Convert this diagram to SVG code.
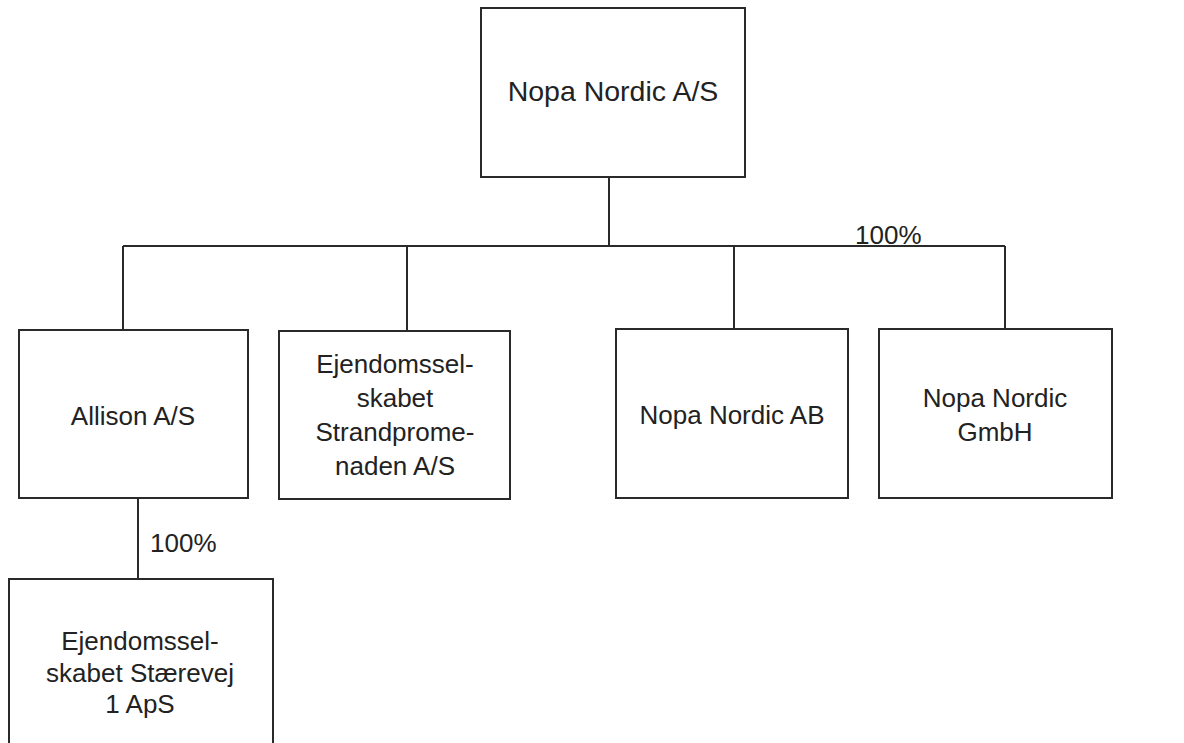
<svg xmlns="http://www.w3.org/2000/svg" width="1184" height="743" viewBox="0 0 1184 743">
<style>
.box{fill:#fff;stroke:#2a2a2a;stroke-width:2}
.ln{stroke:#2a2a2a;stroke-width:2;fill:none}
text{font-family:"Liberation Sans",Arial,sans-serif;font-size:26px;fill:#222;text-anchor:middle}
.top{font-size:28.5px}
.pct{font-size:26px;text-anchor:start}
</style>
<rect width="1184" height="743" fill="#fff"/>
<g id="connectors">
<line class="ln" x1="609" y1="177" x2="609" y2="246"/>
<line class="ln" x1="123" y1="246" x2="1005" y2="246"/>
<line class="ln" x1="123" y1="246" x2="123" y2="330"/>
<line class="ln" x1="407" y1="246" x2="407" y2="331"/>
<line class="ln" x1="734" y1="246" x2="734" y2="329"/>
<line class="ln" x1="1005" y1="246" x2="1005" y2="329"/>
<line class="ln" x1="138" y1="498" x2="138" y2="579"/>
<text class="pct" x="855" y="244">100%</text>
<text class="pct" x="150" y="552">100%</text>
</g>
<g id="nopa-nordic-as">
<rect class="box" x="481" y="8" width="264" height="169"/>
<text class="top" x="613" y="101">Nopa Nordic A/S</text>
</g>
<g id="allison">
<rect class="box" x="19" y="330" width="229" height="168"/>
<text x="133" y="425">Allison A/S</text>
</g>
<g id="strandpromenaden">
<rect class="box" x="279" y="331" width="231" height="168"/>
<text x="395" y="373">Ejendomssel-</text>
<text x="395" y="407">skabet</text>
<text x="395" y="441">Strandprome-</text>
<text x="395" y="475">naden A/S</text>
</g>
<g id="nopa-nordic-ab">
<rect class="box" x="616" y="329" width="232" height="169"/>
<text x="732" y="424">Nopa Nordic AB</text>
</g>
<g id="nopa-nordic-gmbh">
<rect class="box" x="879" y="329" width="233" height="169"/>
<text x="995" y="407">Nopa Nordic</text>
<text x="995" y="441">GmbH</text>
</g>
<g id="staerevej">
<rect class="box" x="9" y="579" width="264" height="180"/>
<text x="140" y="650">Ejendomssel-</text>
<text x="140" y="682">skabet Stærevej</text>
<text x="140" y="713">1 ApS</text>
</g>
</svg>
